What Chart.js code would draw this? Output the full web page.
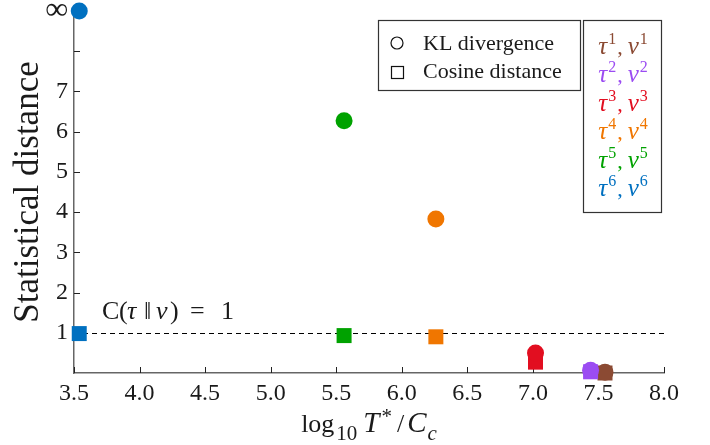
<!DOCTYPE html>
<html><head><meta charset="utf-8">
<script src="https://cdn.jsdelivr.net/npm/chart.js@4"></script>
<style>html,body{margin:0;padding:0;background:#fff}#wrap{width:710px;height:445px;position:relative}</style>
</head><body><div id="wrap"><canvas id="c" width="710" height="445"></canvas></div>
<script>
// ---- data ----
const pairIndices = [1, 2, 3, 4, 5, 6];
const xValues = [7.55, 7.44, 7.02, 6.26, 5.56, 3.54];       // log10 T*/Cc
const klValues = [0.02, 0.07, 0.50, 3.83, 6.27, 9];         // 9 = ∞ (top of axis)
const cosineValues = [0.00, 0.03, 0.27, 0.90, 0.93, 0.98];
const seriesColors = ['#8B4A33', '#9B4CF2', '#E20E20', '#F07600', '#00A200', '#0070C0'];
const xTickValues = [3.5, 4.0, 4.5, 5.0, 5.5, 6.0, 6.5, 7.0, 7.5, 8.0];
const yTickLabels = ['', '1', '2', '3', '4', '5', '6', '7', '', '\u221E'];
const thresholdValue = 1;
const metricNames = ['KL divergence', 'Cosine distance'];

const SERIF = '"Liberation Serif","DejaVu Serif",serif';
const TEXT = '#1a1a1a';

// datasets: tau^6 first in array so tau^1 is drawn first (bottom)
const datasets = pairIndices.map((k, i) => ({
  label: 'tau' + k,
  data: [{x: xValues[i], y: cosineValues[i]}, {x: xValues[i], y: klValues[i]}],
  pointStyle: ['rect', 'circle'],
  pointRadius: [10.6, 8.5],
  backgroundColor: seriesColors[i],
  borderWidth: 0,
  clip: false,
  showLine: false
})).reverse();

function drawPieces(ctx, pieces, x, baseline) {
  for (const p of pieces) {
    ctx.font = p.font;
    ctx.fillStyle = p.color || TEXT;
    x += (p.pre || 0);
    ctx.fillText(p.t, x, baseline + (p.dy || 0));
    x += ctx.measureText(p.t).width + (p.post || 0);
  }
  return x;
}
function piecesWidth(ctx, pieces) {
  let w = 0;
  for (const p of pieces) { ctx.font = p.font; w += (p.pre || 0) + ctx.measureText(p.t).width + (p.post || 0); }
  return w;
}
// pieces placed at fixed offsets from a start point (text layout only)
function drawAt(ctx, pieces, x0, baseline) {
  for (const p of pieces) {
    ctx.font = p.font; ctx.fillStyle = p.color || TEXT;
    ctx.fillText(p.t, x0 + p.at, baseline + (p.dy || 0));
  }
}

const decor = {
  id: 'decor',
  beforeDatasetsDraw(chart) {
    const {ctx, chartArea: a, scales: {x, y}} = chart;
    ctx.save();
    // inward tick marks
    ctx.strokeStyle = '#222'; ctx.lineWidth = 1;
    xTickValues.forEach(v => {
      const px = Math.round(x.getPixelForValue(v)) + 0.5;
      ctx.beginPath(); ctx.moveTo(px, a.bottom); ctx.lineTo(px, a.bottom - 6); ctx.stroke();
    });
    y.ticks.forEach(t => {
      if (t.value === 0) return;
      const py = Math.round(y.getPixelForValue(t.value)) + 0.5;
      ctx.beginPath(); ctx.moveTo(a.left, py); ctx.lineTo(a.left + 6, py); ctx.stroke();
    });
    // threshold dashed line
    const ty = Math.round(y.getPixelForValue(thresholdValue)) + 0.5;
    ctx.strokeStyle = '#000'; ctx.lineWidth = 1; ctx.setLineDash([5, 4]);
    ctx.beginPath(); ctx.moveTo(a.left, ty); ctx.lineTo(a.right, ty); ctx.stroke();
    ctx.setLineDash([]);
    // annotation C(τ‖ν) = 1
    const f = '26px ' + SERIF, fi = 'italic 26px ' + SERIF;
    drawAt(ctx, [
      {t: 'C', font: f, at: 0}, {t: '(', font: f, at: 17}, {t: '\u03C4', font: fi, at: 25},
      {t: '\u2016', font: f, at: 42}, {t: '\u03BD', font: fi, at: 54}, {t: ')', font: f, at: 68},
      {t: '=', font: f, at: 88}, {t: '1', font: f, at: 119}
    ], a.left + 28, ty - 15);
    ctx.restore();
  },
  afterDraw(chart) {
    const {ctx, chartArea: a} = chart;
    ctx.save();
    // x-axis title: log10 T*/Cc
    const big = '26px ' + SERIF, bigI = 'italic 29px ' + SERIF, sm = '21px ' + SERIF, smI = 'italic 21px ' + SERIF;
    const xt = [
      {t: 'log', font: big, post: 2}, {t: '10', font: sm, dy: 8, post: 6},
      {t: 'T', font: bigI, post: 2}, {t: '*', font: sm, dy: -9, post: 5}, {t: '/', font: big, post: 3},
      {t: 'C', font: bigI, post: 1}, {t: 'c', font: smI, dy: 8}
    ];
    const tw = piecesWidth(ctx, xt);
    drawPieces(ctx, xt, (a.left + a.right) / 2 - tw / 2, a.bottom + 59);

    // legend box 1 (metric markers)
    ctx.strokeStyle = '#333'; ctx.lineWidth = 1.2;
    ctx.fillStyle = '#fff';
    ctx.fillRect(378.5, 20.5, 202, 70);
    ctx.strokeRect(378.5, 20.5, 202, 70);
    ctx.strokeStyle = '#111'; ctx.lineWidth = 1.2;
    ctx.beginPath(); ctx.arc(397, 43, 6, 0, Math.PI * 2); ctx.stroke();
    ctx.strokeRect(391.5, 66.5, 12, 12);
    ctx.font = '22px ' + SERIF; ctx.fillStyle = TEXT;
    ctx.fillText(metricNames[0], 423, 50);
    ctx.fillText(metricNames[1], 423, 78);

    // legend box 2 (pairs)
    ctx.fillStyle = '#fff';
    ctx.fillRect(583.5, 20.5, 78, 192);
    ctx.strokeStyle = '#333'; ctx.lineWidth = 1.2;
    ctx.strokeRect(583.5, 20.5, 78, 192);
    const gi = 'italic 25px ' + SERIF, sup = '16px ' + SERIF, rm = '22px ' + SERIF;
    pairIndices.forEach((k, i) => {
      const c = seriesColors[i];
      const p = [
        {t: '\u03C4', font: gi, color: c, post: 1}, {t: String(k), font: sup, dy: -10, color: c},
        {t: ',', font: rm, color: c, pre: 1, post: 5}, {t: '\u03BD', font: gi, color: c, post: 1}, {t: String(k), font: sup, dy: -10, color: c}
      ];
      const pw = piecesWidth(ctx, p);
      drawPieces(ctx, p, 623 - pw / 2, 54 + i * 28.4);
    });
    ctx.restore();
  }
};

new Chart(document.getElementById('c'), {
  type: 'scatter',
  data: {datasets},
  options: {
    responsive: false,
    animation: false,
    events: [],
    layout: {padding: {top: 11, right: 46, bottom: 0, left: 0}},
    plugins: {legend: {display: false}, tooltip: {enabled: false}},
    scales: {
      x: {
        type: 'linear', min: 3.5, max: 8.0,
        afterBuildTicks: s => { s.ticks = xTickValues.map(v => ({value: v})); },
        afterFit: s => { s.height = 72; s.paddingLeft = 0; s.paddingRight = 0; },
        ticks: {font: {family: SERIF, size: 24}, color: TEXT, padding: 6, maxRotation: 0, autoSkip: false,
                callback: v => Number(v).toFixed(1)},
        grid: {drawOnChartArea: false, drawTicks: false},
        border: {display: true, color: '#666', width: 1.5}
      },
      y: {
        type: 'linear', min: 0, max: 9,
        ticks: {stepSize: 1, color: TEXT, padding: 6, autoSkip: false,
                font: c => ({family: SERIF, size: (c.tick && c.tick.value === 9) ? 32 : 24}),
                callback: v => yTickLabels[v] ?? ''},
        afterFit: s => { s.width = 74; s.paddingTop = 0; s.paddingBottom = 0; },
        title: {display: true, text: 'Statistical distance', font: {family: SERIF, size: 35}, color: TEXT, padding: {top: 8, bottom: 0}},
        grid: {drawOnChartArea: false, drawTicks: false},
        border: {display: true, color: '#666', width: 1.5}
      }
    }
  },
  plugins: [decor]
});
</script>
</body></html>
